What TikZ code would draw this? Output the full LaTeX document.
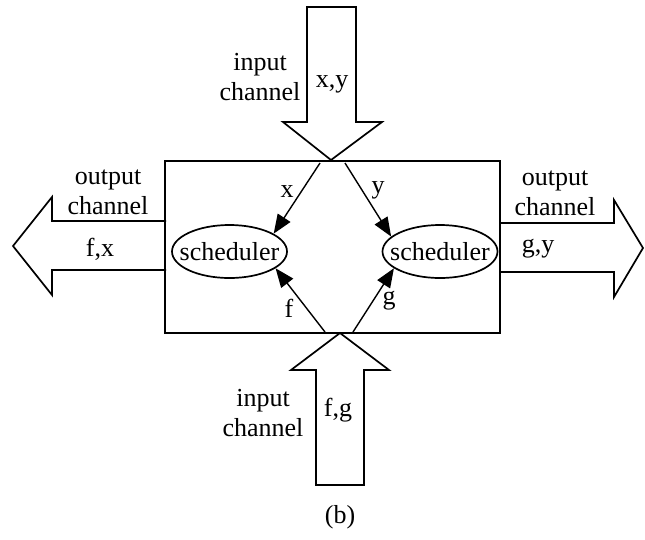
\documentclass[tikz,border=0pt]{standalone}
\usepackage{fontspec}
\setmainfont{Liberation Serif}
\usetikzlibrary{arrows.meta,shapes.geometric}
\begin{document}
\begin{tikzpicture}[x=1pt,y=-1pt,
  lbl/.style={font=\fontsize{26}{30}\selectfont, inner sep=0pt, align=center},
  blockarrow/.style={draw=black, line width=1.7pt, line join=miter, fill=white},
  boxstyle/.style={draw=black, line width=1.9pt, minimum width=335pt, minimum height=172pt, inner sep=0pt},
  sched/.style={draw=black, ellipse, line width=1.7pt, minimum width=115pt, minimum height=53pt, inner sep=0pt, font=\fontsize{26}{30}\selectfont},
  flow/.style={line width=1.4pt, -{Triangle[length=19pt,width=15pt]}}
]
\useasboundingbox (0,0) rectangle (645,539);
% block arrows
\draw[blockarrow] (307,122) -- (307,7) -- (356,7) -- (356,122) -- (382,122) -- (331,160) -- (283,122) -- cycle;
\draw[blockarrow] (316,370) -- (316,485) -- (364,485) -- (364,370) -- (389,370) -- (340,333) -- (291,370) -- cycle;
\draw[blockarrow] (166,221) -- (52,221) -- (52,197) -- (13,246) -- (52,295) -- (52,270) -- (166,270);
\draw[blockarrow] (500,223) -- (614,223) -- (614,200) -- (643,248) -- (614,297) -- (614,272) -- (500,272);
% main box
\node[boxstyle] (box) at (332.5,247) {};
% schedulers
\node[sched] (ls) at (229.5,251.5) {\makebox[0pt]{scheduler}};
\node[sched] (rs) at (440,251.5) {\makebox[0pt]{scheduler}};
% connector start points
\coordinate (tx) at (320,163);
\coordinate (ty) at (345,163);
\coordinate (bf) at (325,332);
\coordinate (bg) at (353,332);
\draw[flow] (tx) -- (ls.22);
\draw[flow] (ty) -- (rs.163);
\draw[flow] (bf) -- (ls.-20);
\draw[flow] (bg) -- (rs.-160);
% labels
\node[lbl] (lx) at (287,192) {x};
\node[lbl] (ly) at (378,190) {y};
\node[lbl] (lf) at (289,308) {f};
\node[lbl] (lg) at (389,301) {g};
\node[lbl] (tin) at (260,77) {input\\channel};
\node[lbl] (txy) at (332,84) {x,y};
\node[lbl] (bin) at (263,413) {input\\channel};
\node[lbl] (bfg) at (338,410) {f,g};
\node[lbl] (lout) at (108,192) {output\\channel};
\node[lbl] (lfx) at (100,249) {f,x};
\node[lbl] (rout) at (555,193) {output\\channel};
\node[lbl] (rgy) at (538,249) {g,y};
\node[lbl] (cap) at (340,517) {(b)};
\end{tikzpicture}
\end{document}
